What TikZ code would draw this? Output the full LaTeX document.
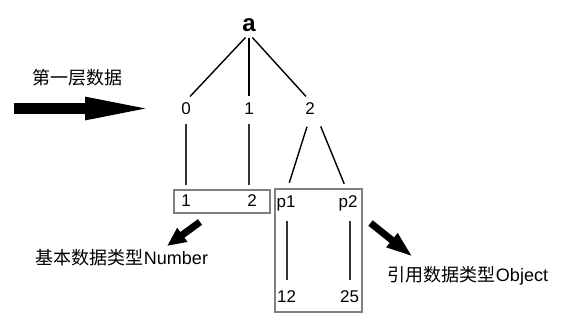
\documentclass[tikz,border=0pt]{standalone}
\usepackage{fontspec}
\setmainfont{Liberation Sans}
\newfontfamily\cjk{Noto Sans CJK SC}
\usetikzlibrary{arrows.meta}

\begin{document}
\begin{tikzpicture}[x=1pt, y=-1pt,
  num/.style={inner sep=2pt, font=\fontsize{17}{20}\selectfont},
  note/.style={inner sep=0pt, font=\fontsize{18}{22}\selectfont},
  branch/.style={black, line width=1.4pt},
  stem/.style={black!80, line width=2pt},
  frame/.style={draw=black!50, line width=2pt, inner sep=0pt},
  bigarrow/.style={line width=11pt, -{Triangle[length=72pt, width=20pt]}},
  pointer/.style={line width=7pt, -{Triangle[length=#1, width=16pt]}}
]
  \useasboundingbox (0,0) rectangle (565,332);

  % Root and first layer
  \node[inner sep=2pt, font=\bfseries\fontsize{24}{28}\selectfont] (a) at (249,25) {a};
  \node[num] (n0) at (186,109) {0};
  \node[num] (n1) at (249,109) {1};
  \node[num] (n2) at (310,109) {2};

  % The two boxes
  \node[frame, minimum width=96pt, minimum height=23pt] (numbox) at (222,201) {};
  \node[frame, minimum width=87pt, minimum height=123pt] (objbox) at (318.5,250.5) {};

  \node[num] (v1) at (186,201) {1};
  \node[num] (v2) at (252,201) {2};
  \node[num] (p1) at (286,203) {p1};
  \node[num] (p2) at (348,203) {p2};
  \node[num] (v12) at (286.5,297) {12};
  \node[num] (v25) at (349.5,297) {25};

  % Tree lines
  \draw[branch, shorten <=5pt, shorten >=6pt] (a.south) -- (n0.north);
  \draw[branch, shorten <=4pt, shorten >=5pt] (a.south) -- (n1.north);
  \draw[branch, shorten <=5pt, shorten >=6pt] (a.south) -- (n2.north);
  \draw[stem, shorten <=7pt, shorten >=3.5pt] (n0.south) -- (n0.south |- numbox.north);
  \draw[stem, shorten <=7pt, shorten >=3.5pt] (n1.south) -- (n1.south |- numbox.north);
  \draw[branch, shorten <=10pt, shorten >=11pt] (n2.south) -- (p1.north);
  \draw[branch, shorten <=10pt, shorten >=10pt] (n2.south east) -- (p2.north);
  \draw[stem, shorten <=9pt, shorten >=8.5pt] (v12.north) -- (v12.north |- p1.south);
  \draw[stem, shorten <=9pt, shorten >=8.5pt] (v25.north) -- (v25.north |- p2.south);

  % Notes and pointers
  \node[note] (layernote) at (77,78) {{\cjk 第一层数据}};
  \node[note] (numnote) at (122,258) {{\cjk 基本数据类型}Number};
  \node[note] (objnote) at (468,276) {{\cjk 引用数据类型}Object};

  \coordinate (layertail) at (14,108.5);
  \coordinate (layertip) at (157,108.5);
  \coordinate (numtail) at (200,222);
  \coordinate (numtip) at (167,246);
  \coordinate (objtail) at (370.5,223);
  \coordinate (objtip) at (413,257);

  \draw[bigarrow] (layertail) -- (layertip);
  \draw[pointer=19pt] (numtail) -- (numtip);
  \draw[pointer=27pt] (objtail) -- (objtip);
\end{tikzpicture}
\end{document}
